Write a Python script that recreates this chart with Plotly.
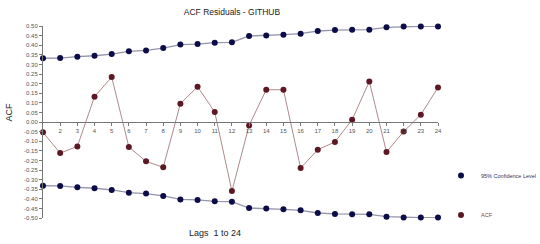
import plotly.graph_objects as go

lags = list(range(1, 25))
acf = [-0.054, -0.162, -0.127, 0.132, 0.234, -0.130, -0.205, -0.236, 0.095, 0.184,
       0.052, -0.360, -0.018, 0.168, 0.168, -0.240, -0.144, -0.104, 0.012, 0.211,
       -0.156, -0.050, 0.038, 0.180]
conf_upper = [0.332, 0.333, 0.340, 0.345, 0.354, 0.368, 0.373, 0.385, 0.403, 0.406,
              0.413, 0.415, 0.448, 0.450, 0.455, 0.460, 0.474, 0.479, 0.481, 0.481,
              0.493, 0.497, 0.498, 0.498]
conf_lower = [-v for v in conf_upper]
x_tick_vals = list(range(2, 25))
y_tick_vals = [round(-0.5 + 0.05 * i, 2) for i in range(21)]
y_tick_text = [f"{v:.2f}" for v in y_tick_vals]

NAVY = "#0c0c48"
MAROON = "#5e1824"
CI_LINE = "#9494aa"
ACF_LINE = "#a57c7c"
FONT = "Liberation Sans, Arial, sans-serif"

fig = go.Figure()
# connecting lines (no legend)
for ys, col, w in [(conf_upper, CI_LINE, 1.3), (conf_lower, CI_LINE, 1.3), (acf, ACF_LINE, 0.9)]:
    fig.add_trace(go.Scatter(x=lags, y=ys, mode="lines", line=dict(color=col, width=w),
                             showlegend=False, hoverinfo="skip", cliponaxis=False))
# markers
fig.add_trace(go.Scatter(
    x=lags, y=conf_upper, mode="markers", name="95% Confidence Level",
    marker=dict(color=NAVY, size=6), cliponaxis=False, legend="legend"))
fig.add_trace(go.Scatter(
    x=lags, y=conf_lower, mode="markers", name="95% Confidence Level",
    marker=dict(color=NAVY, size=6), cliponaxis=False, showlegend=False))
fig.add_trace(go.Scatter(
    x=lags, y=acf, mode="markers", name="ACF",
    marker=dict(color=MAROON, size=6), cliponaxis=False, legend="legend2"))

LEG_X = (441 - 43) / 395

fig.update_layout(
    width=540, height=244,
    margin=dict(l=43, r=102, t=26, b=26, autoexpand=False),
    paper_bgcolor="white", plot_bgcolor="white",
    font=dict(family=FONT, color="#444"),
    title=dict(text="ACF Residuals - GITHUB", x=232 / 540, xanchor="center",
               y=1 - 12.5 / 244, yanchor="middle",
               font=dict(size=8.5, color="#222", family=FONT)),
    xaxis=dict(range=[1, 24], anchor="free", position=0.5, automargin=False,
               tickmode="array", tickvals=x_tick_vals,
               showline=True, linecolor="#777", linewidth=1,
               ticks="outside", ticklen=3, tickcolor="#777",
               tickfont=dict(size=6, color="#555"),
               showgrid=False, zeroline=False),
    yaxis=dict(range=[-0.5, 0.5], tickmode="array", tickvals=y_tick_vals,
               ticktext=y_tick_text, automargin=False,
               showline=True, linecolor="#777", linewidth=1,
               ticks="outside", ticklen=3, tickcolor="#777",
               tickfont=dict(size=6, color="#555"),
               showgrid=False, zeroline=False),
    legend=dict(x=LEG_X, xanchor="left", y=(218 - 175.5) / 192,
                yanchor="middle", font=dict(size=5.5, color="#33335a"),
                bgcolor="rgba(0,0,0,0)"),
    legend2=dict(x=LEG_X, xanchor="left", y=(218 - 215) / 192,
                 yanchor="middle", font=dict(size=5.5, color="#8a3a3a"),
                 bgcolor="rgba(0,0,0,0)"),
    annotations=[
        dict(text="Lags\u00a0 1 to 24", x=(215 - 43) / 395, y=(218 - 233) / 192,
             xref="paper", yref="paper", xanchor="center", yanchor="middle",
             showarrow=False, font=dict(size=9, color="#222")),
        dict(text="ACF", x=(8 - 43) / 395, y=(218 - 112.5) / 192, textangle=-90,
             xref="paper", yref="paper", xanchor="center", yanchor="middle",
             showarrow=False, font=dict(size=9, color="#222")),
    ],
)

fig.write_html("out.html")
